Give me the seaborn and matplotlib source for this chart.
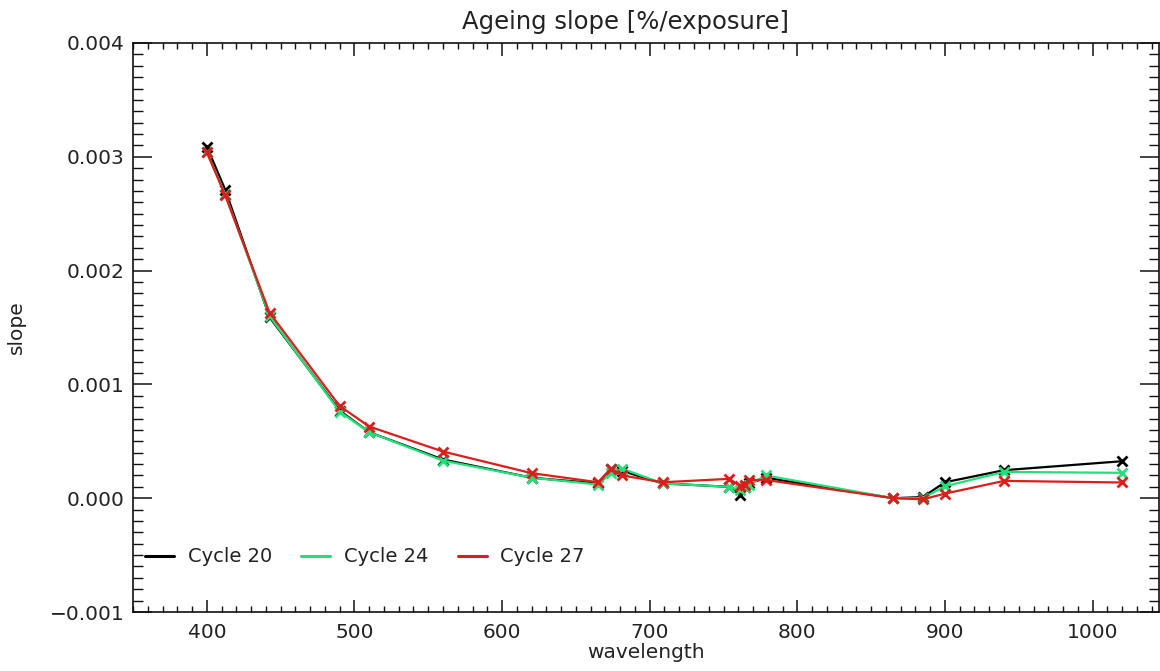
import numpy as np
import pandas as pd
import matplotlib
matplotlib.use("Agg")
import matplotlib.pyplot as plt
from matplotlib.ticker import MultipleLocator, FuncFormatter, FormatStrFormatter
from matplotlib.lines import Line2D
import seaborn as sns

# ---- data ----
wavelength = [400.0, 412.5, 442.5, 490.0, 510.0, 560.0, 620.0, 665.0, 673.75, 681.25,
              708.75, 753.75, 761.25, 764.375, 767.5, 778.75, 865.0, 885.0, 900.0, 940.0, 1020.0]
cycle20 = [0.00309, 0.00271, 0.00159, 0.00077, 0.00058, 0.00034, 0.00018, 0.00013, 0.00026, 0.00024,
           0.00013, 0.00010, 0.00003, 0.00010, 0.00013, 0.00018, 0.00000, 0.00001, 0.00014, 0.000246, 0.000325]
cycle24 = [0.00304, 0.00267, 0.00160, 0.00076, 0.00058, 0.00033, 0.00018, 0.00012, 0.00022, 0.00026,
           0.00013, 0.00010, 0.00007, 0.00010, 0.00012, 0.00020, 0.00000, 0.00000, 0.000105, 0.000231, 0.000223]
cycle27 = [0.00304, 0.00266, 0.00163, 0.00081, 0.00063, 0.00041, 0.00022, 0.00014, 0.00026, 0.00020,
           0.00014, 0.00017, 0.00011, 0.00012, 0.00016, 0.00016, 0.00000, -0.00001, 0.00004, 0.000152, 0.000138]
labels = ["Cycle 20", "Cycle 24", "Cycle 27"]
colors = ["#000000", "#22e07a", "#dd1c1c"]

df = pd.concat([
    pd.DataFrame({"wavelength": wavelength, "slope": vals, "cycle": lab})
    for vals, lab in zip([cycle20, cycle24, cycle27], labels)
], ignore_index=True)

sns.set_style("white")
plt.rcParams["font.family"] = ["DejaVu Sans"]

fig = plt.figure(figsize=(11.6, 6.71), dpi=100)
W, H = 1160, 671
ax = fig.add_axes([133 / W, 1 - 612 / H, (1159 - 133) / W, (612 - 43) / H])

for lab, col in zip(labels, colors):
    sub = df[df["cycle"] == lab]
    sns.lineplot(data=sub, x="wavelength", y="slope", color=col, ax=ax, sort=False,
                 linewidth=1.6, marker="x", markersize=7, markeredgewidth=2.0,
                 markeredgecolor=col, legend=False)

ax.set_xlim(350, 1045)
ax.set_ylim(-0.001, 0.004)
ax.xaxis.set_major_locator(MultipleLocator(100))
ax.xaxis.set_minor_locator(MultipleLocator(10))
ax.yaxis.set_major_locator(MultipleLocator(0.001))
ax.yaxis.set_minor_locator(MultipleLocator(0.0001))
ax.yaxis.set_major_formatter(FuncFormatter(lambda v, p: f"{v:.3f}".replace("-", "\u2212") if abs(v) > 1e-9 else "0.000"))
ax.xaxis.set_major_formatter(FormatStrFormatter("%d"))

txtcol = "#222222"
ax.tick_params(axis="x", which="major", direction="in", length=9, width=1.1,
               top=True, bottom=True, labelsize=14.5, pad=8, colors="#111111", labelcolor=txtcol)
ax.tick_params(axis="x", which="minor", direction="in", length=4.5, width=1.0,
               top=True, bottom=True, colors="#111111")
ax.tick_params(axis="y", which="major", direction="in", length=14, width=1.1,
               left=True, right=True, labelsize=14.5, pad=6, colors="#111111", labelcolor=txtcol)
ax.tick_params(axis="y", which="minor", direction="in", length=7, width=1.0,
               left=True, right=True, colors="#111111")
for s in ax.spines.values():
    s.set_color("#111111")
    s.set_linewidth(1.2)
    s.set_visible(True)

ax.set_xlabel("wavelength", fontsize=14.5, color=txtcol, labelpad=1)
ax.set_ylabel("slope", fontsize=14.5, color=txtcol)
ax.yaxis.set_label_coords((26 - 133) / 1026, 0.5)
fig.text(626 / W, 1 - 22 / H, "Ageing slope [%/exposure]", ha="center", va="center",
         fontsize=17.5, color=txtcol)

handles = [Line2D([0], [0], color=c, linewidth=2.2) for c in colors]
ax.legend(handles, labels, ncol=3, frameon=False, loc="center left",
          bbox_to_anchor=(12 / 1026, (612 - 557) / 569), borderaxespad=0, borderpad=0,
          handlelength=1.5, handletextpad=0.7, columnspacing=1.5, fontsize=14,
          labelcolor=txtcol)

fig.savefig("out.png", dpi=100, facecolor="white")
